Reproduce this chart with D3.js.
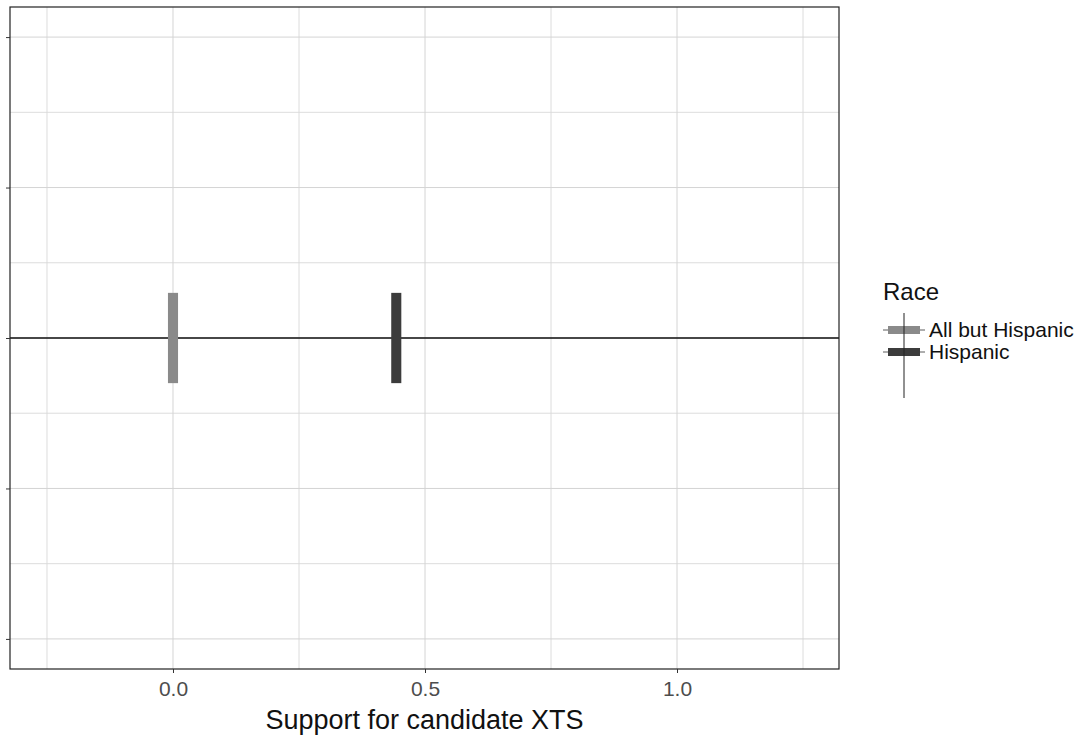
<!DOCTYPE html>
<html><head><meta charset="utf-8">
<script src="https://cdn.jsdelivr.net/npm/d3@7"></script>
<style>body{margin:0;background:#fff;} text{font-family:"Liberation Sans",Arial,sans-serif;}</style>
</head><body><svg id="c" width="1092" height="742"></svg>
<script>
const races = ["All but Hispanic", "Hispanic"];
const support = [0.0, 0.443];
const halfWidth = [0.01, 0.01];
const yLow = [-0.3, -0.3];
const yHigh = [0.3, 0.3];
const xTicks = [0.0, 0.5, 1.0];
const xTickLabels = ["0.0", "0.5", "1.0"];
const xMinor = [-0.25, 0.25, 0.75, 1.25];
const yTicks = [-2, -1, 0, 1, 2];
const yMinor = [-1.5, -0.5, 0.5, 1.5];
const hlineY = [0];
const fills = ["#8a8a8a", "#3c3c3c"];

const svg = d3.select("#c");
const L = 10, R = 839, T = 7, B = 669;
const x = d3.scaleLinear().domain([-0.3234, 1.3214]).range([L, R]);
const y = d3.scaleLinear().domain([-2.2, 2.2]).range([B, T]);
const color = d3.scaleOrdinal().domain(races).range(fills);

// grid
const g = svg.append("g");
g.selectAll(".vmin").data(xMinor).join("line").attr("x1", d=>x(d)).attr("x2", d=>x(d)).attr("y1", T).attr("y2", B).attr("stroke", "#d8d8d8").attr("stroke-width", 0.9);
g.selectAll(".hmin").data(yMinor).join("line").attr("y1", d=>y(d)).attr("y2", d=>y(d)).attr("x1", L).attr("x2", R).attr("stroke", "#d8d8d8").attr("stroke-width", 0.9);
g.selectAll(".vmaj").data(xTicks).join("line").attr("x1", d=>x(d)).attr("x2", d=>x(d)).attr("y1", T).attr("y2", B).attr("stroke", "#d4d4d4").attr("stroke-width", 1);
g.selectAll(".hmaj").data(yTicks).join("line").attr("y1", d=>y(d)).attr("y2", d=>y(d)).attr("x1", L).attr("x2", R).attr("stroke", "#d4d4d4").attr("stroke-width", 1);

// hline
svg.selectAll(".hl").data(hlineY).join("line").attr("x1", L).attr("x2", R).attr("y1", d=>y(d)).attr("y2", d=>y(d)).attr("stroke", "#111").attr("stroke-width", 1.6);

// bars
svg.selectAll(".bar").data(races).join("rect")
  .attr("x", (d,i)=>x(support[i]-halfWidth[i]))
  .attr("width", (d,i)=>x(support[i]+halfWidth[i]) - x(support[i]-halfWidth[i]))
  .attr("y", (d,i)=>y(yHigh[i]))
  .attr("height", (d,i)=>y(yLow[i]) - y(yHigh[i]))
  .attr("fill", d=>color(d));

// border
svg.append("rect").attr("x", L).attr("y", T).attr("width", R-L).attr("height", B-T).attr("fill", "none").attr("stroke", "#222").attr("stroke-width", 1.2);

// axes
const xa = svg.append("g").attr("transform", `translate(0,${B})`)
  .call(d3.axisBottom(x).tickValues(xTicks).tickFormat((d,i)=>xTickLabels[i]).tickSize(4).tickPadding(8));
xa.select(".domain").remove();
xa.selectAll("line").attr("stroke", "#333");
xa.selectAll("text").attr("fill", "#4d4d4d").style("font-size", "21px").style("font-family", "Liberation Sans, Arial, sans-serif");

const ya = svg.append("g").attr("transform", `translate(${L},0)`)
  .call(d3.axisLeft(y).tickValues(yTicks).tickFormat("").tickSize(4));
ya.select(".domain").remove();
ya.selectAll("line").attr("stroke", "#333");

svg.append("text").attr("x", (L+R)/2).attr("y", 729).attr("text-anchor", "middle")
  .style("font-size", "27px").attr("fill", "#111").text("Support for candidate XTS");

// legend
const lx = 883, kw = 42, itemY = [330, 352];
svg.append("text").attr("x", lx).attr("y", 300).style("font-size", "24px").attr("fill", "#111").text("Race");
const lg = svg.append("g");
races.forEach((r,i)=>{
  const cy = itemY[i];
  lg.append("line").attr("x1", lx).attr("x2", lx+kw).attr("y1", cy).attr("y2", cy).attr("stroke", "#333").attr("stroke-width", 0.8);
  lg.append("rect").attr("x", lx+5).attr("width", kw-10).attr("y", cy-4).attr("height", 8).attr("fill", color(r));
  lg.append("text").attr("x", lx+kw+4).attr("y", cy).attr("dy", "0.35em").style("font-size", "21px").attr("fill", "#111").text(r);
});
lg.append("line").attr("x1", lx+kw/2).attr("x2", lx+kw/2).attr("y1", 313).attr("y2", 398).attr("stroke", "#222").attr("stroke-width", 1);
</script></body></html>
